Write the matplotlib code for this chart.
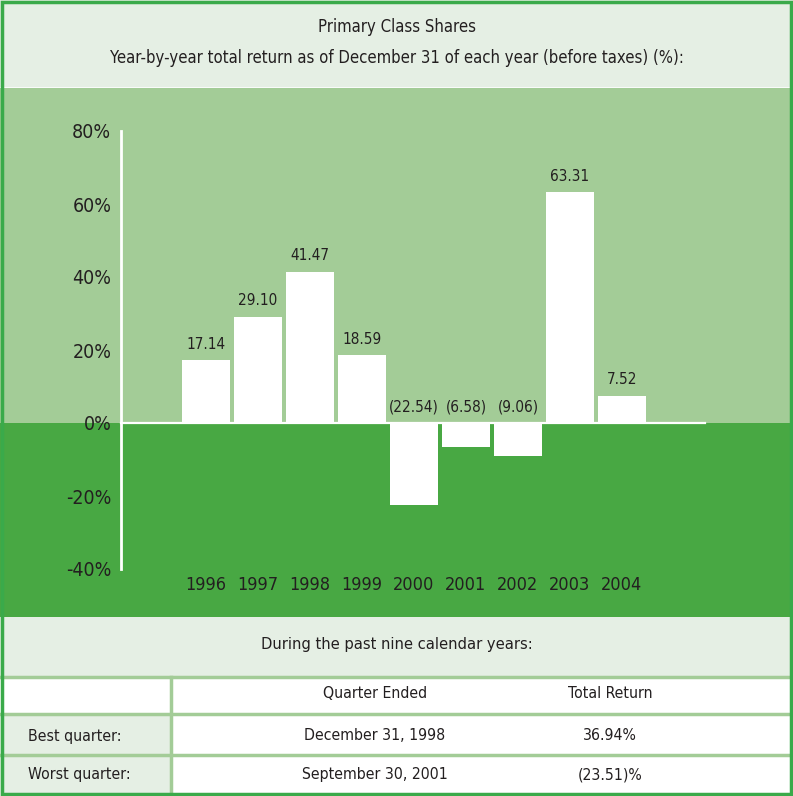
import matplotlib
matplotlib.use('Agg')
import matplotlib.pyplot as plt
from matplotlib.patches import Rectangle

plt.rcParams['font.family'] = ['DejaVu Sans']
plt.rcParams['font.stretch'] = 'condensed'

# данные графика
years = ['1996', '1997', '1998', '1999', '2000', '2001', '2002', '2003', '2004']
returns = [17.14, 29.10, 41.47, 18.59, -22.54, -6.58, -9.06, 63.31, 7.52]
yticks = [-40, -20, 0, 20, 40, 60, 80]

title1 = 'Primary Class Shares'
title2 = 'Year-by-year total return as of December 31 of each year (before taxes) (%):'
table_caption = 'During the past nine calendar years:'
table_header = ['', 'Quarter Ended', 'Total Return']
table_rows = [['Best quarter:', 'December 31, 1998', '36.94%'],
              ['Worst quarter:', 'September 30, 2001', '(23.51)%']]

pale = '#e5efe4'
light = '#a3cc97'
dark = '#48a843'
border = '#3aaa4a'
txt = '#231f20'

W, H = 793, 796
fig = plt.figure(figsize=(W / 100, H / 100), dpi=100)

# фон и таблица в пиксельных координатах
bg = fig.add_axes([0, 0, 1, 1], zorder=0)
bg.set_xlim(0, W)
bg.set_ylim(H, 0)
bg.axis('off')

bg.add_patch(Rectangle((0, 0), W, 86, color=pale))
bg.add_patch(Rectangle((0, 617), W, 60, color=pale))
bg.add_patch(Rectangle((0, 677), W, 119, color='white'))
bg.add_patch(Rectangle((0, 714), 171, 82, color=pale))
bg.text(W / 2, 27, title1, ha='center', va='center', fontsize=12, color=txt)
bg.text(W / 2, 58, title2, ha='center', va='center', fontsize=12, color=txt)
bg.text(W / 2, 645, table_caption, ha='center', va='center', fontsize=11.8, color=txt)

for y in [677, 714, 755]:
    bg.plot([0, W], [y, y], color=light, lw=2.5)
bg.plot([171, 171], [677, 796], color=light, lw=2.5)

col_x = [28, 375, 610]
row_y = [693, 736, 775]
for r, row in enumerate([table_header] + table_rows):
    for c, cell in enumerate(row):
        bg.text(col_x[c], row_y[r], cell, ha='left' if c == 0 else 'center',
                va='center', fontsize=11.3, color=txt)

# столбчатая диаграмма
ax = fig.add_axes([0, (H - 617) / H, 1, (617 - 88) / H], zorder=1)
ax.set_xlim((0 - 206) / 52, (W - 206) / 52)
ax.set_ylim(-(617 - 423) / 3.65, (423 - 88) / 3.65)
ax.axhspan(0, 100, color=light, lw=0)
ax.axhspan(-100, 0, color=dark, lw=0)

x = list(range(len(years)))
ax.bar(x, returns, width=0.92, color='white', zorder=3)
x0 = (121 - 206) / 52
ax.plot([x0, 9.6], [0, 0], color='white', lw=1.6, zorder=4)

for i, v in enumerate(returns):
    lab = f'{v:.2f}' if v >= 0 else f'({-v:.2f})'
    ax.text(i, max(v, 0) + 2.3, lab, ha='center', va='bottom', fontsize=11, color=txt)
    ax.text(i, -44.4, years[i], ha='center', va='center', fontsize=13, color=txt)

for s in ['top', 'right', 'bottom']:
    ax.spines[s].set_visible(False)
ax.spines['left'].set_position(('data', x0))
ax.spines['left'].set_bounds(-40, 80)
ax.spines['left'].set_color('white')
ax.spines['left'].set_linewidth(2)
ax.spines['left'].set_zorder(5)
ax.set_yticks(yticks)
ax.set_yticklabels([f'{t}%' for t in yticks], fontsize=14, color=txt)
ax.tick_params(axis='y', length=0, pad=7)
ax.set_xticks([])
ax.set_facecolor('none')

# рамка
fig.patches.append(Rectangle((0.002, 0.002), 0.996, 0.996, transform=fig.transFigure,
                             fill=False, edgecolor=border, lw=2.5, zorder=10))

fig.savefig('out.png', dpi=100)
